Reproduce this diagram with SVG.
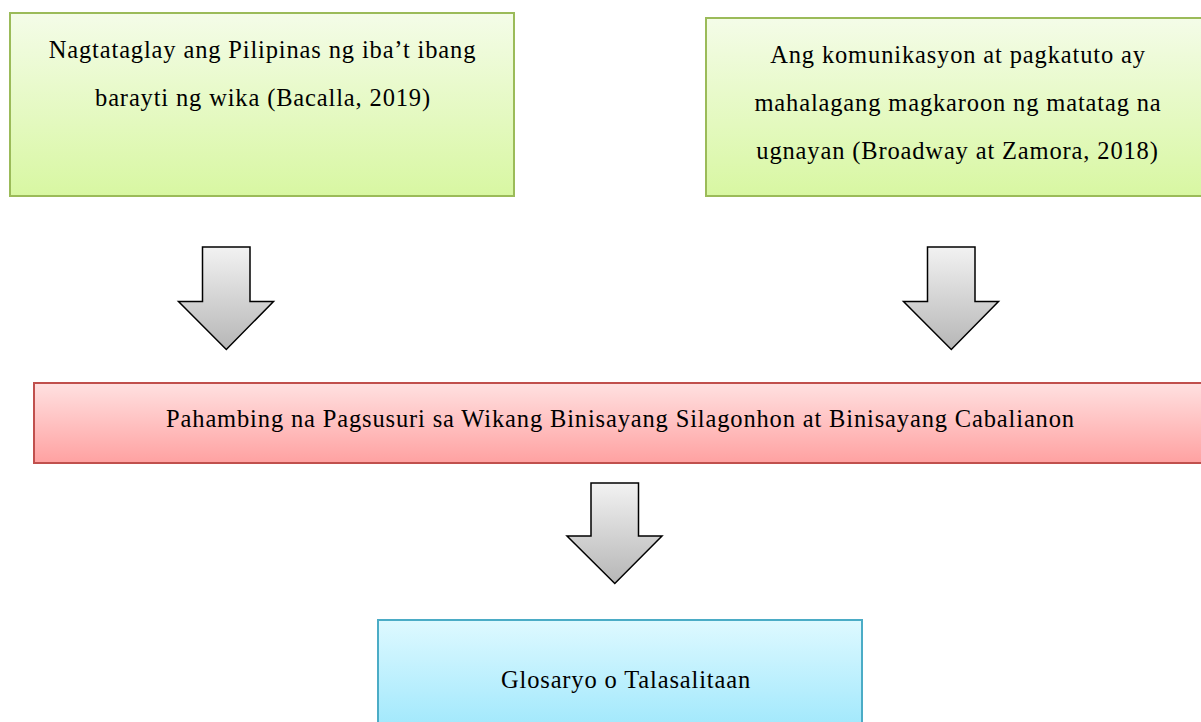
<svg xmlns="http://www.w3.org/2000/svg" width="1201" height="722" viewBox="0 0 1201 722">
<defs>
<linearGradient id="gGreen" x1="0" y1="0" x2="0" y2="1"><stop offset="0" stop-color="#f4fce8"/><stop offset="1" stop-color="#d8f7a2"/></linearGradient>
<linearGradient id="gRed" x1="0" y1="0" x2="0" y2="1"><stop offset="0" stop-color="#ffe1e1"/><stop offset="1" stop-color="#ffa1a1"/></linearGradient>
<linearGradient id="gBlue" x1="0" y1="0" x2="0" y2="1"><stop offset="0" stop-color="#def9ff"/><stop offset="1" stop-color="#a0e8fc"/></linearGradient>
<linearGradient id="gGray" x1="0" y1="0" x2="0" y2="1"><stop offset="0" stop-color="#f2f2f2"/><stop offset="1" stop-color="#b6b6b6"/></linearGradient>
</defs>
<style>
.t{font-size:24.5px;letter-spacing:0.85px;fill:#000;text-anchor:middle}
.green{fill:url(#gGreen);stroke:#9bbb59;stroke-width:2}
.red{fill:url(#gRed);stroke:#c0504d;stroke-width:2}
.blue{fill:url(#gBlue);stroke:#4bacc6;stroke-width:2}
.arrow{fill:url(#gGray);stroke:#000;stroke-width:1.5;stroke-linejoin:miter}
</style>
<rect width="1201" height="722" fill="#fff"/>
<g font-family="'Liberation Serif', 'DejaVu Serif', serif">
<g id="node-pilipinas">
<rect class="green" x="10" y="13" width="504" height="183"/>
<text class="t" x="262.5" y="58">Nagtataglay ang Pilipinas ng iba’t ibang</text>
<text class="t" x="263" y="106">barayti ng wika (Bacalla, 2019)</text>
</g>
<g id="node-komunikasyon">
<rect class="green" x="706" y="18" width="520" height="178"/>
<text class="t" x="958" y="63">Ang komunikasyon at pagkatuto ay</text>
<text class="t" x="958" y="111">mahalagang magkaroon ng matatag na</text>
<text class="t" x="957.5" y="158.5">ugnayan (Broadway at Zamora, 2018)</text>
</g>
<g id="node-pahambing">
<rect class="red" x="34" y="383" width="1180" height="80"/>
<text class="t" x="620.5" y="427">Pahambing na Pagsusuri sa Wikang Binisayang Silagonhon at Binisayang Cabalianon</text>
</g>
<g id="node-glosaryo">
<rect class="blue" x="378" y="620" width="484" height="110"/>
<text class="t" x="626" y="688">Glosaryo o Talasalitaan</text>
</g>
</g>
<g id="connectors">
<path class="arrow" d="M202.5,247 H250 V301.5 H273.5 L226.3,349.5 L178.5,301.5 H202.5 Z"/>
<path class="arrow" d="M927.5,247 H975 V301.5 H998.5 L951.3,349.5 L903.5,301.5 H927.5 Z"/>
<path class="arrow" d="M591,483 H638.5 V536 H662 L614.8,583.5 L567,536 H591 Z"/>
</g>
</svg>
